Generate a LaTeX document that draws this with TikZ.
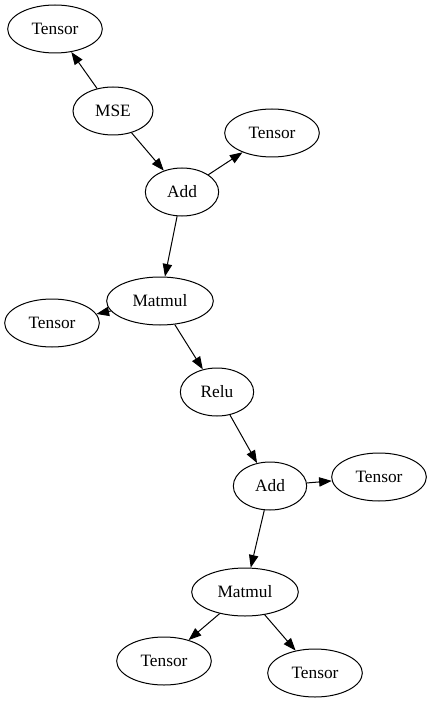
\documentclass[tikz,border=0pt]{standalone}
\usepackage{fontspec}
\setmainfont{Liberation Serif}
\usetikzlibrary{arrows.meta,shapes.geometric}

\begin{document}
\begin{tikzpicture}[
    x=0.75pt, y=-0.75pt,
    op/.style={draw, ellipse, inner sep=0pt, minimum height=36pt, line width=0.75pt, font=\fontsize{13}{15}\selectfont},
    edge/.style={-{Triangle[length=9.5pt, width=7pt]}, line width=0.75pt},
]
\useasboundingbox (0,0) rectangle (432,702);
% operations
\node[op, minimum width=60pt] (mse) at (113,111) {MSE};
\node[op, minimum width=55pt] (add1) at (182,192) {Add};
\node[op, minimum width=80pt] (matmul1) at (160,301) {Matmul};
\node[op, minimum width=55pt] (relu) at (217,392) {Relu};
\node[op, minimum width=55pt] (add2) at (270,486) {Add};
\node[op, minimum width=80pt] (matmul2) at (245,592) {Matmul};
% tensors
\node[op, minimum width=71pt] (t1) at (55,29) {Tensor};
\node[op, minimum width=71pt] (t2) at (272,133) {Tensor};
\node[op, minimum width=71pt] (t3) at (52,323) {Tensor};
\node[op, minimum width=71pt] (t4) at (379,477) {Tensor};
\node[op, minimum width=71pt] (t5) at (164,661) {Tensor};
\node[op, minimum width=71pt] (t6) at (315,673) {Tensor};
% edges
\draw[edge] (mse) -- (t1);
\draw[edge] (mse) -- (add1);
\draw[edge] (add1) -- (t2);
\draw[edge] (add1) -- (matmul1);
\draw[edge] (matmul1) -- (t3);
\draw[edge] (matmul1) -- (relu);
\draw[edge] (relu) -- (add2);
\draw[edge] (add2) -- (t4);
\draw[edge] (add2) -- (matmul2);
\draw[edge] (matmul2) -- (t5);
\draw[edge] (matmul2) -- (t6);
\end{tikzpicture}
\end{document}
